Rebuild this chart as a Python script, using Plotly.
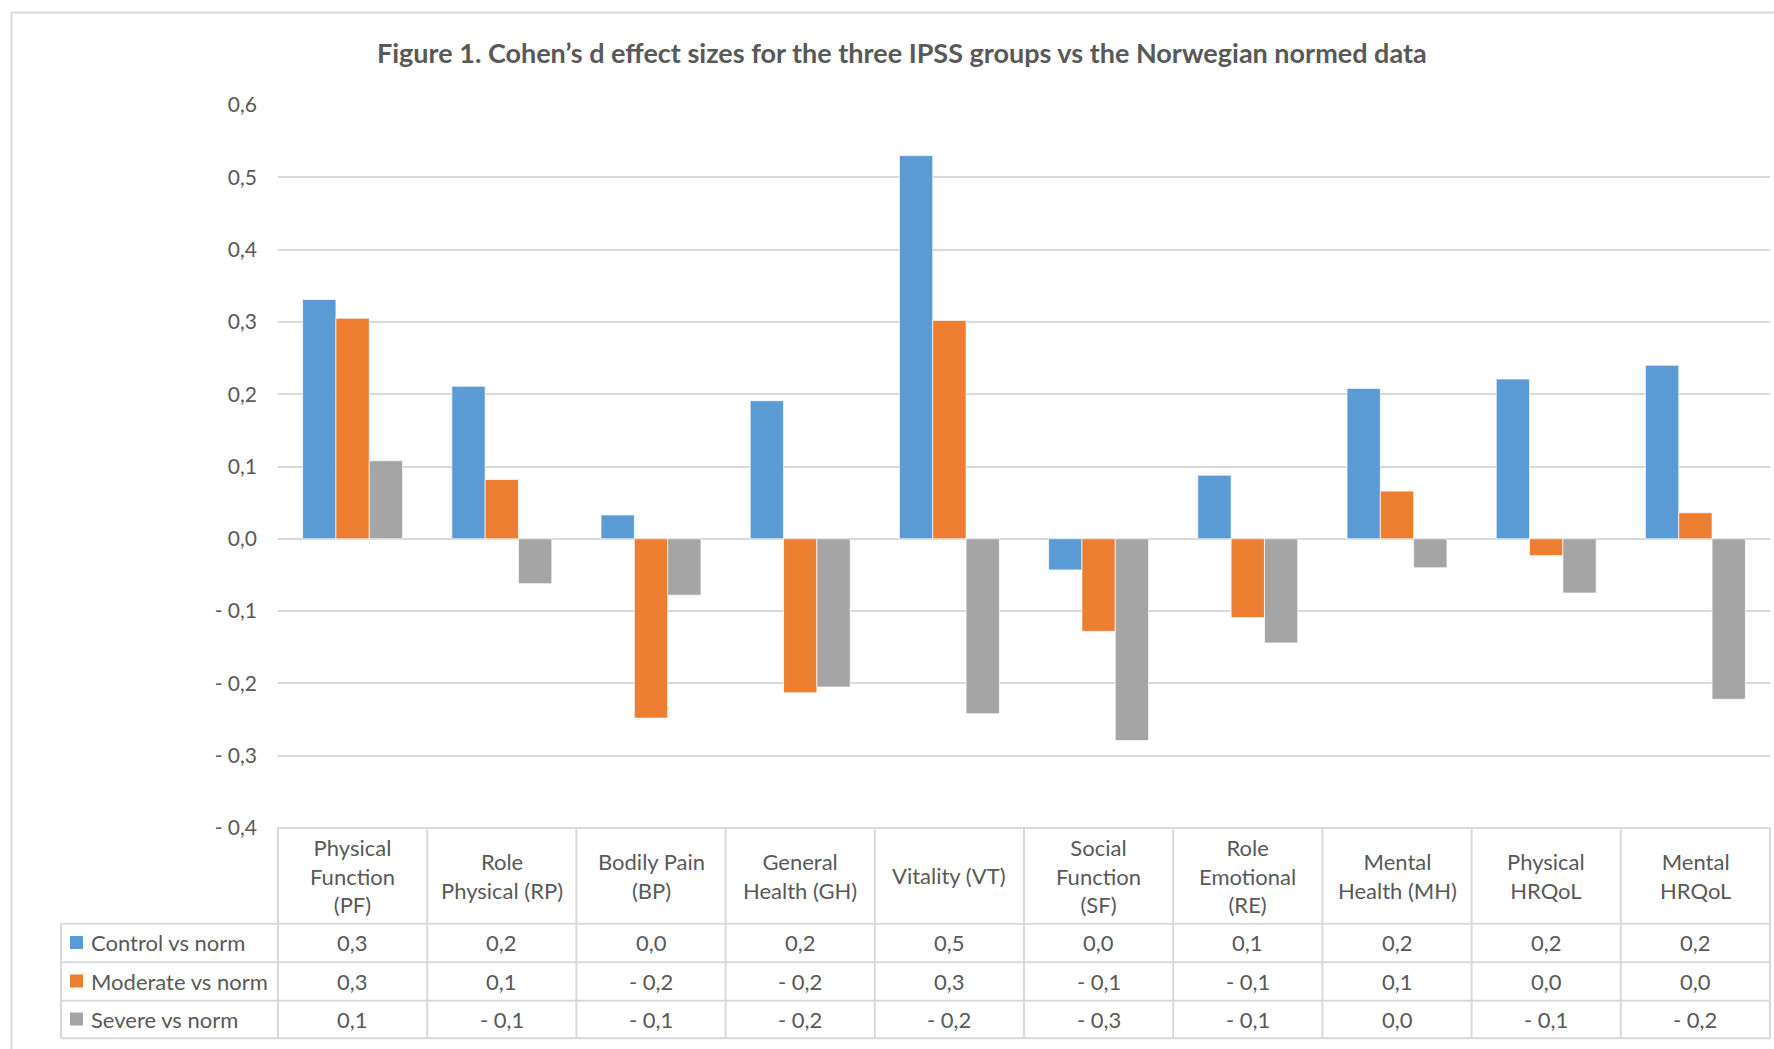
import plotly.graph_objects as go

# ---------------- data ----------------
categories = ["Physical Function (PF)", "Role Physical (RP)", "Bodily Pain (BP)",
              "General Health (GH)", "Vitality (VT)", "Social Function (SF)",
              "Role Emotional (RE)", "Mental Health (MH)", "Physical HRQoL", "Mental HRQoL"]
header_labels = ["Physical<br>Function<br>(PF)", "Role<br>Physical (RP)", "Bodily Pain<br>(BP)",
                 "General<br>Health (GH)", "Vitality (VT)", "Social<br>Function<br>(SF)",
                 "Role<br>Emotional<br>(RE)", "Mental<br>Health (MH)", "Physical<br>HRQoL",
                 "Mental<br>HRQoL"]
series_names = ["Control vs norm", "Moderate vs norm", "Severe vs norm"]
control = [0.331, 0.211, 0.033, 0.191, 0.530, -0.043, 0.088, 0.208, 0.221, 0.240]
moderate = [0.305, 0.082, -0.248, -0.213, 0.302, -0.128, -0.109, 0.066, -0.023, 0.036]
severe = [0.108, -0.062, -0.078, -0.205, -0.242, -0.279, -0.144, -0.040, -0.075, -0.222]
series_values = [control, moderate, severe]
colors = ["#5B9BD5", "#ED7D31", "#A5A5A5"]
y_tickvals = [0.6, 0.5, 0.4, 0.3, 0.2, 0.1, 0.0, -0.1, -0.2, -0.3, -0.4]
y_ticktext = ["0,6", "0,5", "0,4", "0,3", "0,2", "0,1", "0,0", "- 0,1", "- 0,2", "- 0,3", "- 0,4"]
title_text = "Figure 1. Cohen\u2019s d effect sizes for the three IPSS groups vs the Norwegian normed data"


def fmt(v):
    r = round(v, 1)
    if abs(r) < 1e-9:
        return "0,0"
    s = f"{abs(r):.1f}".replace(".", ",")
    return ("- " + s) if r < 0 else s


# ---------------- layout constants ----------------
W, H = 1774, 1049
ML, MR, MT, MB = 278, 4, 105, 221
PW, PH = W - ML - MR, H - MT - MB
FONT = "Lato"
TXT = "#595959"
GRID = "#D9D9D9"
TABLE_FS = 22


def px(x):  # pixel x -> paper
    return (x - ML) / PW


def py(y):  # pixel y -> paper
    return (H - MB - y) / PH


fig = go.Figure()
for name, vals, col in zip(series_names, series_values, colors):
    fig.add_trace(go.Bar(x=categories, y=vals, name=name,
                         marker=dict(color=col, line=dict(color="rgba(255,255,255,0.7)", width=1))))

shapes = []
# outer chart border (top & left)
shapes.append(dict(type="line", xref="paper", yref="paper", x0=px(11.5), x1=px(W + 5),
                   y0=py(12.5), y1=py(12.5), line=dict(color=GRID, width=2)))
shapes.append(dict(type="line", xref="paper", yref="paper", x0=px(11.5), x1=px(11.5),
                   y0=py(12.5), y1=py(H + 5), line=dict(color=GRID, width=2)))

# table geometry
y_head_top = H - MB
y_rows = [923.7, 962.3, 1000.7, 1038.3]
x_leg_left = 61
n = len(categories)
lw = dict(color=GRID, width=2)
# horizontal lines
shapes.append(dict(type="line", xref="paper", yref="paper", x0=0, x1=1,
                   y0=py(y_head_top), y1=py(y_head_top), line=lw))
for yr in y_rows:
    shapes.append(dict(type="line", xref="paper", yref="paper", x0=px(x_leg_left), x1=1,
                       y0=py(yr), y1=py(yr), line=lw))
# vertical lines
for i in range(n + 1):
    shapes.append(dict(type="line", xref="paper", yref="paper", x0=i / n, x1=i / n,
                       y0=py(y_head_top), y1=py(y_rows[-1]), line=lw))
shapes.append(dict(type="line", xref="paper", yref="paper", x0=px(x_leg_left), x1=px(x_leg_left),
                   y0=py(y_rows[0]), y1=py(y_rows[-1]), line=lw))

annotations = []
# title
annotations.append(dict(text="<b>" + title_text + "</b>", xref="paper", yref="paper",
                        x=px(902), y=py(52), xanchor="center", yanchor="middle", showarrow=False,
                        font=dict(family=FONT, size=27, color=TXT)))
# header labels
y_head_mid = (y_head_top + y_rows[0]) / 2
for cat, lab in zip(categories, header_labels):
    annotations.append(dict(text=lab, xref="x", yref="paper", x=cat, y=py(y_head_mid),
                            xanchor="center", yanchor="middle", showarrow=False,
                            font=dict(family=FONT, size=TABLE_FS, color=TXT)))
# rows
for r, (name, vals, col) in enumerate(zip(series_names, series_values, colors)):
    yc = (y_rows[r] + y_rows[r + 1]) / 2
    shapes.append(dict(type="rect", xref="paper", yref="paper", x0=px(70), x1=px(83),
                       y0=py(yc - 7), y1=py(yc + 6), fillcolor=col, line=dict(width=0)))
    annotations.append(dict(text=name, xref="paper", yref="paper", x=px(89), y=py(yc),
                            xanchor="left", yanchor="middle", showarrow=False,
                            font=dict(family=FONT, size=TABLE_FS, color=TXT)))
    for cat, v in zip(categories, vals):
        annotations.append(dict(text=fmt(v), xref="x", yref="paper", x=cat, y=py(yc),
                                xanchor="center", yanchor="middle", showarrow=False,
                                font=dict(family=FONT, size=TABLE_FS, color=TXT)))

fig.update_layout(
    width=W, height=H,
    margin=dict(l=ML, r=MR, t=MT, b=MB, pad=0),
    paper_bgcolor="white", plot_bgcolor="white",
    barmode="group", bargap=0.33, bargroupgap=0,
    showlegend=False,
    font=dict(family=FONT, color=TXT),
    xaxis=dict(type="category", range=[-0.5, n - 0.5], showticklabels=False,
               showgrid=False, zeroline=False, showline=False, ticks=""),
    yaxis=dict(range=[-0.4, 0.6], tickvals=y_tickvals, ticktext=y_ticktext,
               showgrid=True, gridcolor=GRID, gridwidth=2, zeroline=False, showline=False,
               ticks="", ticklabelstandoff=20, tickfont=dict(family=FONT, size=21, color=TXT)),
    shapes=shapes, annotations=annotations,
)

fig.write_html("out.html")
